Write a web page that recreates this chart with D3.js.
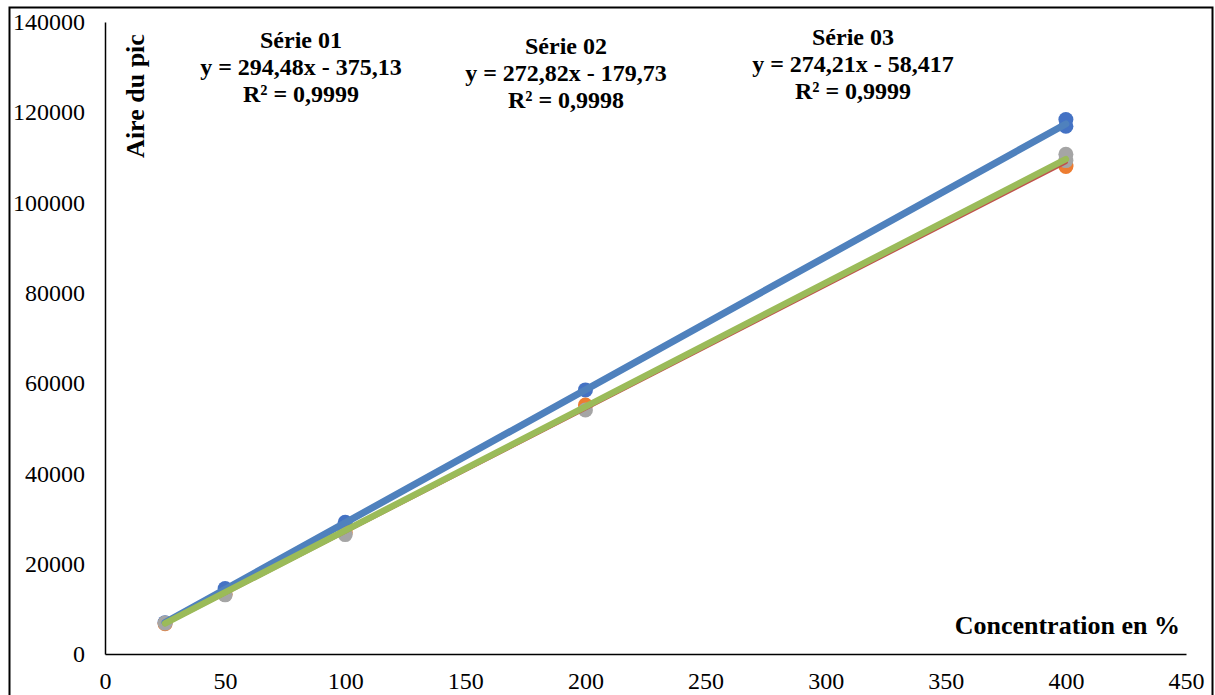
<!DOCTYPE html>
<html>
<head>
<meta charset="utf-8">
<script src="https://cdn.jsdelivr.net/npm/d3@7"></script>
<style>
  html, body { margin: 0; padding: 0; background: #fff; }
  svg { display: block; }
  text { font-family: "Liberation Serif", Tinos, "Times New Roman", serif; fill: #000; }
</style>
</head>
<body>
<svg id="chart" width="1215" height="695"></svg>
<script>
// ---- data ----
const concentrations = [25, 50, 100, 200, 400, 400];
const serie01 = [6950, 14500, 29200, 58500, 116900, 118400];
const serie02 = [6700, 13250, 26900, 55150, 108000, 108300];
const serie03 = [6850, 13100, 26450, 54050, 109300, 110700];
const seriesNames = ["Série 01", "Série 02", "Série 03"];
const slopes = [294.48, 272.82, 274.21];
const intercepts = [-375.13, -179.73, -58.417];
const equations = ["y = 294,48x - 375,13", "y = 272,82x - 179,73", "y = 274,21x - 58,417"];
const r2Labels = ["R² = 0,9999", "R² = 0,9998", "R² = 0,9999"];
const trendRange = [25, 400];
const xTicks = [0, 50, 100, 150, 200, 250, 300, 350, 400, 450];
const yTicks = [0, 20000, 40000, 60000, 80000, 100000, 120000, 140000];
const xTitle = "Concentration en %";
const yTitle = "Aire du pic";

// ---- styles ----
const markerColors = ["#4472C4", "#ED7D31", "#A5A5A5"];
const trendColors = ["#4F81BD", "#C0504D", "#9BBB59"];
const trendWidths = [7, 4, 6.5];
const labelPos = [
  {x: 301, y: 48}, {x: 566, y: 54}, {x: 853, y: 45}
];
const lineGap = 27;

const svg = d3.select("#chart");
const x = d3.scaleLinear().domain([0, 450]).range([105, 1186]);
const y = d3.scaleLinear().domain([0, 140000]).range([654, 22]);

// outer frame
svg.append("rect").attr("x", 9.5).attr("y", 7.5).attr("width", 1203).attr("height", 700)
  .attr("fill", "none").attr("stroke", "#000").attr("stroke-width", 2);

// axes
const xAxis = d3.axisBottom(x).tickValues(xTicks).tickSize(0).tickPadding(18).tickFormat(d3.format("d"));
const gx = svg.append("g").attr("transform", `translate(0,${y(0)})`).call(xAxis);
gx.attr("font-family", null);
gx.select(".domain").attr("stroke", "#000").attr("stroke-width", 1.5);
gx.selectAll("text").attr("font-size", 24);

const yAxis = d3.axisLeft(y).tickValues(yTicks).tickSize(0).tickPadding(20).tickFormat(d3.format("d"));
const gy = svg.append("g").attr("transform", `translate(${x(0)},0)`).call(yAxis);
gy.attr("font-family", null);
gy.select(".domain").attr("stroke", "#000").attr("stroke-width", 1.5);
gy.selectAll("text").attr("font-size", 24);

// markers
const allSeries = [serie01, serie02, serie03];
allSeries.forEach((vals, i) => {
  svg.append("g").selectAll("circle").data(vals).join("circle")
    .attr("cx", (d, j) => x(concentrations[j]))
    .attr("cy", d => y(d))
    .attr("r", 7.5)
    .attr("fill", markerColors[i]);
});

// trendlines
slopes.forEach((s, i) => {
  const pts = trendRange.map(c => [x(c), y(s * c + intercepts[i])]);
  svg.append("path")
    .attr("d", d3.line()(pts))
    .attr("stroke", trendColors[i])
    .attr("stroke-width", trendWidths[i])
    .attr("stroke-linecap", "round")
    .attr("fill", "none");
});

// equation labels
seriesNames.forEach((name, i) => {
  const g = svg.append("g").attr("font-weight", "bold").attr("font-size", 24).attr("text-anchor", "middle");
  [name, equations[i], r2Labels[i]].forEach((t, k) => {
    g.append("text").attr("x", labelPos[i].x).attr("y", labelPos[i].y + k * lineGap).text(t);
  });
});

// axis titles
svg.append("text").attr("x", 1180).attr("y", 634).attr("text-anchor", "end")
  .attr("font-weight", "bold").attr("font-size", 26).text(xTitle);
svg.append("text").attr("transform", "translate(144,96) rotate(-90)").attr("text-anchor", "middle")
  .attr("font-weight", "bold").attr("font-size", 26).text(yTitle);
</script>
</body>
</html>
